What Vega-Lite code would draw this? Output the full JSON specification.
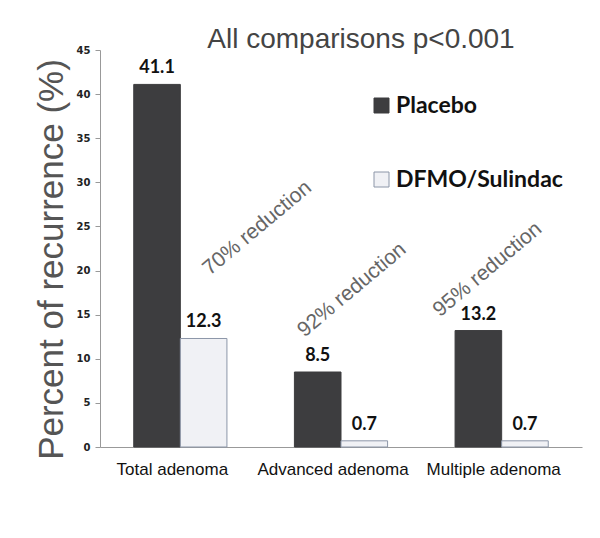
{
  "$schema": "https://vega.github.io/schema/vega-lite/v6.json",
  "width": 482,
  "height": 397,
  "autosize": {"type": "none"},
  "padding": {"left": 100, "top": 50, "right": 18, "bottom": 91},
  "background": "white",
  "title": {
    "text": "All comparisons p<0.001",
    "font": "Liberation Sans",
    "fontSize": 28,
    "fontWeight": "normal",
    "color": "#444444",
    "anchor": "middle",
    "dx": 20,
    "offset": -9
  },
  "datasets": {
    "bars": [
      {"type": "Total adenoma", "group": "Placebo", "pct": 41.1},
      {"type": "Total adenoma", "group": "DFMO/Sulindac", "pct": 12.3},
      {"type": "Advanced adenoma", "group": "Placebo", "pct": 8.5},
      {"type": "Advanced adenoma", "group": "DFMO/Sulindac", "pct": 0.7},
      {"type": "Multiple adenoma", "group": "Placebo", "pct": 13.2},
      {"type": "Multiple adenoma", "group": "DFMO/Sulindac", "pct": 0.7}
    ],
    "notes": [
      {"type": "Total adenoma", "label": "70% reduction", "pct": 24.8},
      {"type": "Advanced adenoma", "label": "92% reduction", "pct": 17.8},
      {"type": "Multiple adenoma", "label": "95% reduction", "pct": 20.1}
    ]
  },
  "encoding": {
    "x": {
      "field": "type",
      "type": "nominal",
      "sort": ["Total adenoma", "Advanced adenoma", "Multiple adenoma"],
      "scale": {"paddingInner": 0.42, "paddingOuter": 0.21},
      "axis": {
        "title": null,
        "labelAngle": 0,
        "labelFont": "Liberation Sans",
        "labelFontSize": 17,
        "labelColor": "#111111",
        "labelPadding": 14,
        "labelOffset": -8,
        "ticks": false,
        "domainColor": "#999999"
      }
    },
    "y": {
      "field": "pct",
      "type": "quantitative",
      "scale": {"domain": [0, 45], "nice": false},
      "axis": {
        "values": [0, 5, 10, 15, 20, 25, 30, 35, 40, 45],
        "title": "Percent of recurrence (%)",
        "titleFont": "Liberation Sans",
        "titleFontSize": 35,
        "titleFontWeight": "normal",
        "titleColor": "#555555",
        "titlePadding": 7,
        "titleY": 209,
        "labelFont": "DejaVu Sans",
        "labelFontWeight": "bold",
        "labelFontSize": 10,
        "labelColor": "#222222",
        "labelPadding": 5,
        "tickSize": 5,
        "tickColor": "#999999",
        "domainColor": "#999999",
        "grid": false
      }
    }
  },
  "layer": [
    {
      "data": {"name": "bars"},
      "mark": {"type": "bar", "strokeWidth": 1},
      "encoding": {
        "xOffset": {"field": "group", "type": "nominal", "sort": ["Placebo", "DFMO/Sulindac"]},
        "fill": {
          "field": "group",
          "type": "nominal",
          "sort": ["Placebo", "DFMO/Sulindac"],
          "scale": {"domain": ["Placebo", "DFMO/Sulindac"], "range": ["#3d3d3f", "#f0f1f5"]},
          "legend": {
            "orient": "none",
            "legendX": 270,
            "legendY": 44,
            "title": null,
            "symbolType": "square",
            "symbolSize": 225,
            "symbolStrokeWidth": 1,
            "labelFont": "Lato",
            "labelFontSize": 23,
            "labelFontWeight": "bold",
            "labelColor": "#111111",
            "labelOffset": 3,
            "labelLimit": 0,
            "rowPadding": 50,
            "padding": 0
          }
        },
        "stroke": {
          "field": "group",
          "type": "nominal",
          "sort": ["Placebo", "DFMO/Sulindac"],
          "scale": {"domain": ["Placebo", "DFMO/Sulindac"], "range": ["#3d3d3f", "#8c96a8"]},
          "legend": {
            "orient": "none",
            "legendX": 270,
            "legendY": 44,
            "title": null,
            "symbolType": "square",
            "symbolSize": 225,
            "symbolStrokeWidth": 1,
            "labelFont": "Lato",
            "labelFontSize": 23,
            "labelFontWeight": "bold",
            "labelColor": "#111111",
            "labelOffset": 3,
            "labelLimit": 0,
            "rowPadding": 50,
            "padding": 0
          }
        }
      }
    },
    {
      "data": {"name": "bars"},
      "mark": {"type": "text", "font": "Lato", "fontWeight": "bold", "fontSize": 18, "color": "#111111", "baseline": "alphabetic", "dy": -11},
      "encoding": {
        "xOffset": {"field": "group", "type": "nominal", "sort": ["Placebo", "DFMO/Sulindac"]},
        "text": {"field": "pct", "type": "quantitative", "format": ".1f"}
      }
    },
    {
      "data": {"name": "notes"},
      "transform": [{"filter": "datum.type === 'Total adenoma'"}],
      "mark": {"type": "text", "font": "Liberation Sans", "fontSize": 21, "color": "#666666", "angle": -40, "align": "center", "baseline": "middle", "dx": 59, "dy": 49.5},
      "encoding": {"text": {"field": "label"}}
    },
    {
      "data": {"name": "notes"},
      "transform": [{"filter": "datum.type === 'Advanced adenoma'"}],
      "mark": {"type": "text", "font": "Liberation Sans", "fontSize": 21, "color": "#666666", "angle": -40, "align": "center", "baseline": "middle", "dx": 8.4, "dy": 7.1},
      "encoding": {"text": {"field": "label"}}
    },
    {
      "data": {"name": "notes"},
      "transform": [{"filter": "datum.type === 'Multiple adenoma'"}],
      "mark": {"type": "text", "font": "Liberation Sans", "fontSize": 21, "color": "#666666", "angle": -40, "align": "center", "baseline": "middle", "dx": -10.7, "dy": -9},
      "encoding": {"text": {"field": "label"}}
    }
  ],
  "config": {"view": {"stroke": null}}
}
